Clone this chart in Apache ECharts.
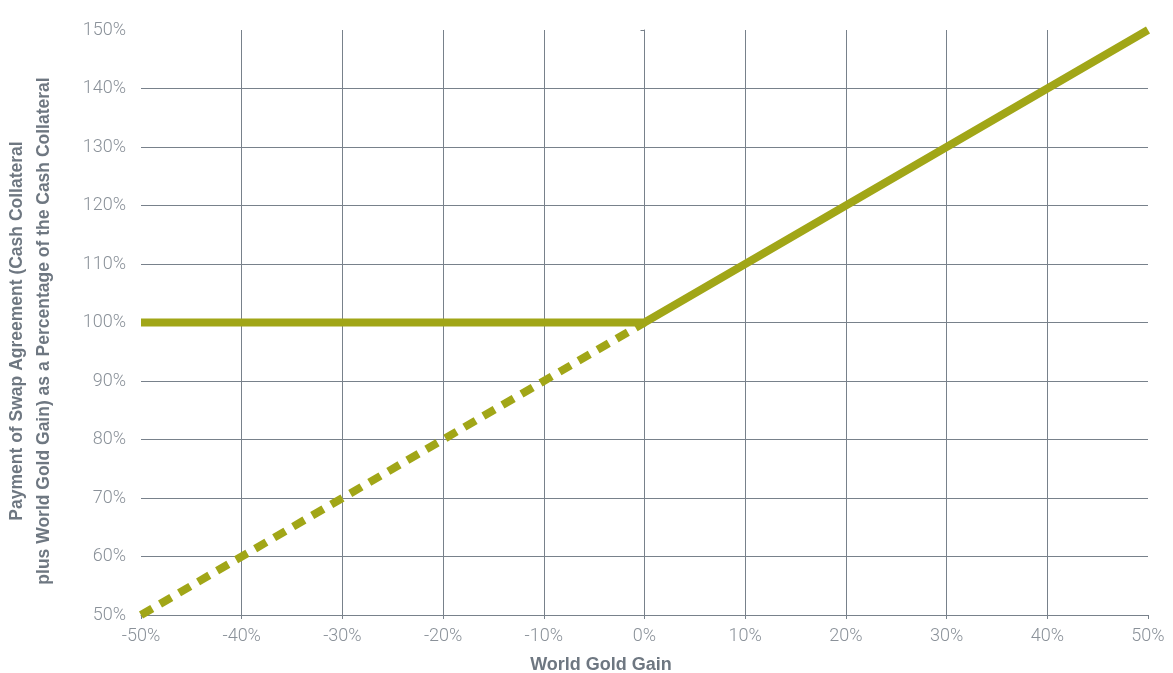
<!DOCTYPE html>
<html>
<head>
<meta charset="utf-8">
<script src="https://cdn.jsdelivr.net/npm/echarts@6/dist/echarts.min.js"></script>
<style>
  html, body { margin: 0; padding: 0; background: #fff; }
  #chart { width: 1173px; height: 673px; }
</style>
</head>
<body>
<div id="chart"></div>
<script>
// World gold gain (%) on the x axis, payment (%) on the y axis
const gainPoints = [-50, 0, 50];
const paymentWithFloor = [100, 100, 150];
const unprotectedGain = [-50, 0];
const unprotectedPayment = [50, 100];
const xTickLabels = ['-50%', '-40%', '-30%', '-20%', '-10%', '0%', '10%', '20%', '30%', '40%', '50%'];
const yTickLabels = ['50%', '60%', '70%', '80%', '90%', '100%', '110%', '120%', '130%', '140%', '150%'];

const lineColor = '#a1a617';
const gridColor = '#78818b';
const labelColor = '#8a9199';
const titleColor = '#6e7781';
const labelFont = 'Roboto, "Liberation Sans", sans-serif';

const chart = echarts.init(document.getElementById('chart'), null, { renderer: 'canvas' });

chart.setOption({
  animation: false,
  backgroundColor: '#ffffff',
  grid: { left: 141, right: 25, top: 30, bottom: 58, containLabel: false },
  xAxis: {
    type: 'value',
    min: -50, max: 50, interval: 10,
    axisLine: { show: true, lineStyle: { color: gridColor, width: 1 } },
    axisTick: { show: true, length: 4, lineStyle: { color: gridColor } },
    splitLine: {
      show: true,
      lineStyle: { color: gridColor, width: 1 },
      showMinLine: false, showMaxLine: false
    },
    axisLabel: {
      color: labelColor, fontSize: 18, fontWeight: 300, fontFamily: labelFont, margin: 12,
      formatter: v => xTickLabels[Math.round((v + 50) / 10)] || ''
    }
  },
  yAxis: {
    type: 'value',
    min: 50, max: 150, interval: 10,
    axisLine: { show: true, lineStyle: { color: gridColor, width: 1 } },
    axisTick: { show: true, length: 4, lineStyle: { color: gridColor } },
    splitLine: {
      show: true,
      lineStyle: { color: gridColor, width: 1 },
      showMinLine: false, showMaxLine: false
    },
    axisLabel: {
      color: labelColor, fontSize: 18, fontWeight: 300, fontFamily: labelFont, margin: 15,
      formatter: v => yTickLabels[Math.round((v - 50) / 10)] || ''
    }
  },
  graphic: [
    {
      type: 'text',
      x: 601, y: 665,
      style: {
        text: 'World Gold Gain',
        fill: titleColor, font: 'bold 18px "Liberation Sans", Arial, sans-serif',
        align: 'center', verticalAlign: 'middle'
      }
    },
    {
      type: 'text',
      x: 31, y: 331, rotation: Math.PI / 2,
      style: {
        text: 'Payment of Swap Agreement (Cash Collateral\nplus World Gold Gain) as a Percentage of the Cash Collateral',
        fill: titleColor, font: 'bold 17.5px "Liberation Sans", Arial, sans-serif',
        align: 'center', verticalAlign: 'middle', lineHeight: 27
      }
    }
  ],
  series: [
    {
      type: 'line',
      data: unprotectedGain.map((x, i) => [x, unprotectedPayment[i]]),
      showSymbol: false, clip: false, z: 2,
      lineStyle: { color: lineColor, width: 8, type: [13, 9], cap: 'butt' }
    },
    {
      type: 'line',
      data: gainPoints.map((x, i) => [x, paymentWithFloor[i]]),
      showSymbol: false, clip: false, z: 3,
      lineStyle: { color: lineColor, width: 8, cap: 'butt', join: 'miter' }
    }
  ]
});
</script>
</body>
</html>
